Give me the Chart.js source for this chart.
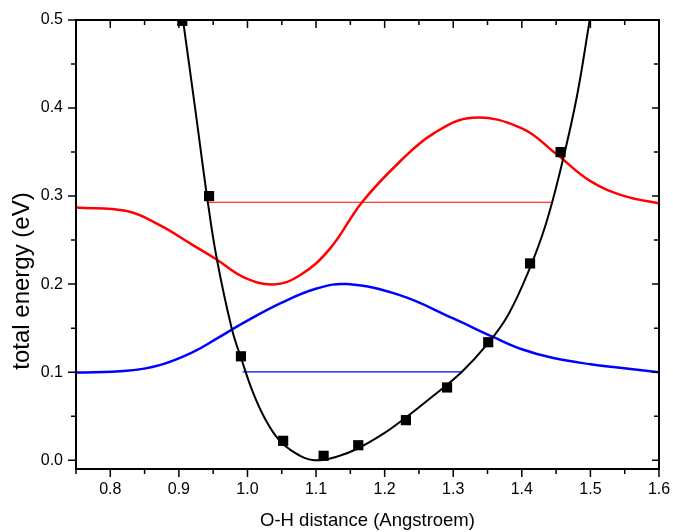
<!DOCTYPE html>
<html>
<head>
<meta charset="utf-8">
<script src="https://cdn.jsdelivr.net/npm/chart.js@4"></script>
<style>
  body { margin: 0; background: #fff; }
  canvas { display: block; }
</style>
</head>
<body>
<canvas id="graphique" width="673" height="532"></canvas>
<script>
// points calculés (carrés noirs)
const pointsX = [0.905, 0.944, 0.9905, 1.052, 1.111, 1.1615, 1.231, 1.291, 1.351, 1.412, 1.4565];
const pointsY = [0.499, 0.300, 0.118, 0.022, 0.005, 0.017, 0.0455, 0.0826, 0.134, 0.2235, 0.350];

// courbe de potentiel (noire)
const potentielX = [0.906, 0.924, 0.9415, 0.955, 0.977, 0.992, 1.008, 1.025, 1.045, 1.07, 1.097, 1.13, 1.16, 1.20, 1.23, 1.261, 1.312, 1.35, 1.38, 1.41, 1.435, 1.458, 1.48, 1.499];
const potentielY = [0.5, 0.398, 0.297, 0.230, 0.150, 0.113, 0.077, 0.048, 0.024, 0.008, 0.0, 0.004, 0.013, 0.031, 0.048, 0.067, 0.1, 0.132, 0.165, 0.215, 0.268, 0.335, 0.412, 0.5];

// fonction d'onde n=1 (rouge)
const rougeX = [0.75, 0.824, 0.872, 0.921, 0.955, 0.994, 1.038, 1.0765, 1.12, 1.167, 1.222, 1.271, 1.328, 1.4, 1.45, 1.5, 1.55, 1.6];
const rougeY = [0.287, 0.283, 0.267, 0.244, 0.228, 0.208, 0.1997, 0.210, 0.240, 0.293, 0.339, 0.371, 0.389, 0.377, 0.348, 0.317, 0.300, 0.2917];

// fonction d'onde n=0 (bleue)
const bleuX = [0.75, 0.824, 0.872, 0.921, 0.955, 0.994, 1.05, 1.101, 1.145, 1.222, 1.30, 1.358, 1.4, 1.446, 1.5, 1.543, 1.6];
const bleuY = [0.0996, 0.1015, 0.108, 0.123, 0.138, 0.156, 0.179, 0.195, 0.200, 0.1875, 0.161, 0.140, 0.126, 0.116, 0.109, 0.105, 0.1];

// niveaux d'énergie
const niveauRougeX = [0.9405, 1.445];
const niveauRougeY = [0.293, 0.293];
const niveauBleuX = [0.993, 1.312];
const niveauBleuY = [0.1003, 0.1003];

// graduations
const xTicks = [0.8, 0.9, 1.0, 1.1, 1.2, 1.3, 1.4, 1.5, 1.6];
const xMinor = [0.75, 0.85, 0.95, 1.05, 1.15, 1.25, 1.35, 1.45, 1.55];
const yTicks = [0.0, 0.1, 0.2, 0.3, 0.4, 0.5];
const yMinor = [0.05, 0.15, 0.25, 0.35, 0.45];

const titreX = "O-H distance (Angstroem)";
const titreY = "total energy (eV)";

function paires(xs, ys) {
  return xs.map((x, i) => ({ x: x, y: ys[i] }));
}

// cadre + graduations majeures / mineures + titre vertical
const cadre = {
  id: "cadre",
  afterDraw(chart) {
    const ctx = chart.ctx;
    const a = chart.chartArea;
    const sx = chart.scales.x;
    const sy = chart.scales.y;
    ctx.save();
    ctx.strokeStyle = "#000";
    ctx.lineWidth = 2;
    ctx.strokeRect(a.left, a.top, a.right - a.left, a.bottom - a.top);
    ctx.lineWidth = 1.5;
    ctx.beginPath();
    for (const v of xTicks) {
      const p = sx.getPixelForValue(v);
      ctx.moveTo(p, a.bottom); ctx.lineTo(p, a.bottom + 8);
      ctx.moveTo(p, a.top); ctx.lineTo(p, a.top + 8);
    }
    for (const v of xMinor) {
      const p = sx.getPixelForValue(v);
      ctx.moveTo(p, a.bottom); ctx.lineTo(p, a.bottom + 5);
      ctx.moveTo(p, a.top); ctx.lineTo(p, a.top + 5);
    }
    for (const v of yTicks) {
      const p = sy.getPixelForValue(v);
      ctx.moveTo(a.left, p); ctx.lineTo(a.left - 8, p);
      ctx.moveTo(a.right, p); ctx.lineTo(a.right - 7, p);
    }
    for (const v of yMinor) {
      const p = sy.getPixelForValue(v);
      ctx.moveTo(a.left, p); ctx.lineTo(a.left - 5, p);
      ctx.moveTo(a.right, p); ctx.lineTo(a.right - 5, p);
    }
    ctx.stroke();

    ctx.fillStyle = "#000";
    ctx.font = '24px "Liberation Sans", Arial, sans-serif';
    ctx.textAlign = "center";
    ctx.textBaseline = "middle";
    ctx.translate(22, 281);
    ctx.rotate(-Math.PI / 2);
    ctx.fillText(titreY, 0, 0);
    ctx.restore();
  }
};

const police = { family: '"Liberation Sans", Arial, sans-serif', size: 16 };

// options communes des courbes
function courbe(xs, ys, couleur, epaisseur, ordre) {
  return {
    data: paires(xs, ys),
    showLine: true,
    borderColor: couleur,
    borderWidth: epaisseur,
    pointRadius: 0,
    tension: 0.4,
    clip: 0,
    order: ordre
  };
}

const config = {
  type: "scatter",
  data: {
    datasets: [
      {
        data: paires(pointsX, pointsY),
        pointStyle: "rect",
        pointRadius: 7.2,
        pointBackgroundColor: "#000",
        pointBorderWidth: 0,
        showLine: false,
        clip: 0,
        order: 0
      },
      courbe(potentielX, potentielY, "#000", 2, 1),
      courbe(rougeX, rougeY, "#ff0000", 2.5, 2),
      courbe(bleuX, bleuY, "#0000ff", 2.5, 2),
      courbe(niveauRougeX, niveauRougeY, "#ff0000", 1.2, 3),
      courbe(niveauBleuX, niveauBleuY, "#0000ff", 1.2, 3)
    ]
  },
  options: {
    responsive: false,
    animation: false,
    layout: { padding: { left: 0, right: 14, top: 20, bottom: 0 } },
    plugins: { legend: { display: false }, tooltip: { enabled: false } },
    scales: {
      x: {
        type: "linear",
        min: 0.75,
        max: 1.6,
        grid: { display: false, drawTicks: false },
        border: { display: false },
        afterBuildTicks: (s) => { s.ticks = xTicks.map((v) => ({ value: v })); },
        afterFit: (s) => { s.height = 63; s.paddingLeft = 0; s.paddingRight = 0; },
        ticks: {
          padding: 11,
          color: "#000",
          font: police,
          callback: (v) => Number(v).toFixed(1)
        },
        title: {
          display: true,
          text: titreX,
          color: "#000",
          font: { family: police.family, size: 18.5 },
          padding: { top: 0, bottom: 0 }
        }
      },
      y: {
        type: "linear",
        min: -0.01,
        max: 0.5,
        grid: { display: false, drawTicks: false },
        border: { display: false },
        afterBuildTicks: (s) => { s.ticks = yTicks.map((v) => ({ value: v })); },
        afterFit: (s) => { s.width = 76; s.paddingTop = 0; s.paddingBottom = 0; },
        ticks: {
          padding: 13,
          color: "#000",
          font: police,
          callback: (v) => Number(v).toFixed(1)
        }
      }
    }
  },
  plugins: [cadre]
};

new Chart(document.querySelector("#graphique"), config);
</script>
</body>
</html>
